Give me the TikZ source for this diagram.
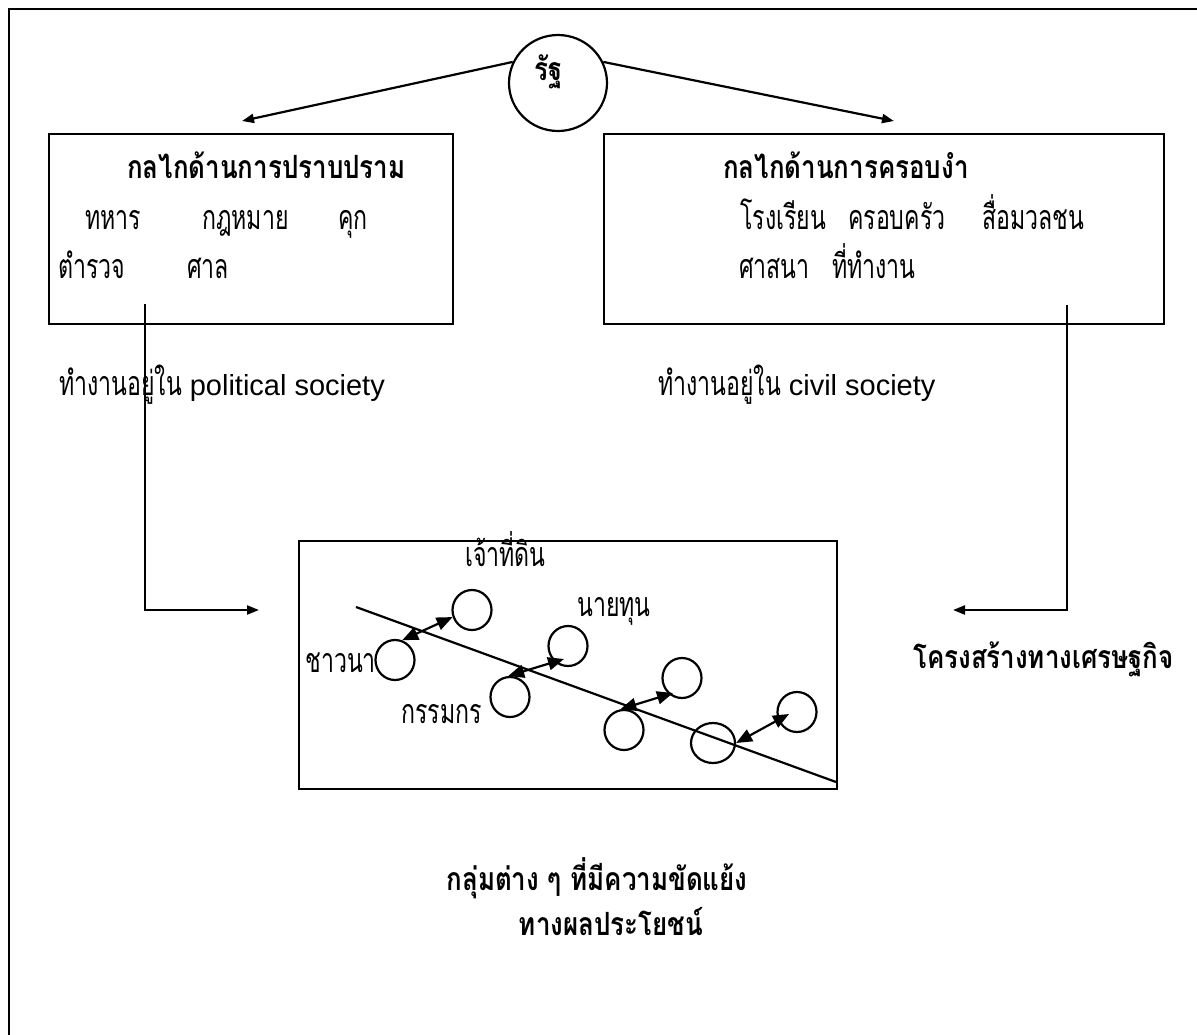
\documentclass[tikz,border=0pt]{standalone}
\usepackage{fontspec}
\setmainfont{Liberation Sans}
\newfontfamily\thai[Script=Thai,FakeStretch=0.68]{Loma}
\newfontfamily\thaihead[Script=Thai,FakeStretch=0.81]{Loma}
\usetikzlibrary{arrows.meta,calc,shapes.geometric}

\newcommand\txtsize{\fontsize{34bp}{40bp}\selectfont}
\newcommand\headsize{\fontsize{32bp}{38bp}\selectfont}
\newcommand\latinpart[1]{{\rmfamily\fontsize{29bp}{34bp}\selectfont #1}}

\tikzset{
  frameline/.style={line width=2.2bp},
  blockbox/.style={draw, line width=2.2bp, inner sep=0, anchor=north west},
  word/.style={inner sep=0, anchor=base west, font=\txtsize\thai},
  headword/.style={inner sep=0, anchor=base west, font=\headsize\thaihead\bfseries},
  group/.style={draw, ellipse, line width=2.2bp, inner sep=0, minimum width=39bp, minimum height=40bp},
  link/.style={line width=2.2bp, -{Triangle[length=12bp,width=9bp]}},
  clash/.style={line width=2.2bp, {Triangle[length=16bp,width=13bp]}-{Triangle[length=16bp,width=13bp]}},
}

\begin{document}
\begin{tikzpicture}[x=1bp,y=-1bp]
\useasboundingbox (0,0) rectangle (1197,1035);
\fill[white] (0,0) rectangle (1197,1035);

% outer frame (only its top and left sides fall on the page)
\draw[frameline] (1197,9) -- (9,9) -- (9,1035);

% the state
\node[draw, ellipse, line width=2.2bp, minimum width=98bp, minimum height=96bp, inner sep=0] (state) at (558,83) {};
\node[inner sep=0, anchor=base, font=\headsize\thaihead\bfseries] (statelbl) at (549,80) {รัฐ};

% repressive apparatus
\node[blockbox, minimum width=404bp, minimum height=190bp] (rep) at (48,133) {};
\node[headword] (repttl) at (127,178) {กลไกด้านการปราบปราม};
\node[word] (r1) at (85,229) {ทหาร};
\node[word] (r2) at (202,229) {กฎหมาย};
\node[word] (r3) at (338,229) {คุก};
\node[word] (r4) at (58,278) {ตำรวจ};
\node[word] (r5) at (187,278) {ศาล};

% hegemonic apparatus
\node[blockbox, minimum width=560bp, minimum height=190bp] (heg) at (603,133) {};
\node[headword] (hegttl) at (723,178) {กลไกด้านการครอบงำ};
\node[word] (h1) at (740,229) {โรงเรียน};
\node[word] (h2) at (848,229) {ครอบครัว};
\node[word] (h3) at (982,229) {สื่อมวลชน};
\node[word] (h4) at (739,278) {ศาสนา};
\node[word] (h5) at (832,278) {ที่ทำงาน};

% arrows from the state
\coordinate (repin) at (242,121);
\coordinate (hegin) at (894,121);
\draw[link] (state.155) -- (repin);
\draw[link] (state.25) -- (hegin);

% societies
\node[word] (pol) at (59,395) {ทำงานอยู่ใน \latinpart{political society}};
\node[word] (civ) at (658,395) {ทำงานอยู่ใน \latinpart{civil society}};

% economic structure
\node[blockbox, minimum width=538bp, minimum height=248bp] (eco) at (298,540) {};
\coordinate (repout) at (145,304);
\coordinate (ecoL) at (259,610);
\coordinate (hegout) at (1067,305);
\coordinate (ecoR) at (953,610);
\draw[link] (repout) |- (ecoL);
\draw[link] (hegout) |- (ecoR);
\node[headword] (ecolbl) at (913,668) {โครงสร้างทางเศรษฐกิจ};

% class axis
\coordinate (axA) at (356,607);
\coordinate (axB) at (836,782);
\draw[line width=2.2bp] (axA) -- (axB);

% groups
\node[group] (c1) at (472,610) {};
\node[group] (c2) at (395,660) {};
\node[group] (c3) at (510,697) {};
\node[group] (c4) at (568,646) {};
\node[group] (c5) at (682,678) {};
\node[group] (c6) at (624,730) {};
\node[group, minimum width=44bp] (c7) at (713,743) {};
\node[group] (c8) at (797,712) {};

\draw[clash] (c2.70) -- (c1.200);
\draw[clash] (c3.95) -- ($(c4)+(-4,13)$);
\draw[clash] (c6.100) -- ($(c5)+(-9,15)$);
\draw[clash] (c7.east) -- ($(c8)+(-8,2)$);

\node[word] (landlord) at (465,566) {เจ้าที่ดิน};
\node[word] (capital) at (577,616) {นายทุน};
\node[word, anchor=base east] (farmer) at (376,672) {ชาวนา};
\node[word] (worker) at (401,723) {กรรมกร};

% caption
\node[headword, anchor=base] (cap1) at (597,890) {กลุ่มต่าง ๆ ที่มีความขัดแย้ง};
\node[headword, anchor=base] (cap2) at (611,935) {ทางผลประโยชน์};
\end{tikzpicture}
\end{document}
